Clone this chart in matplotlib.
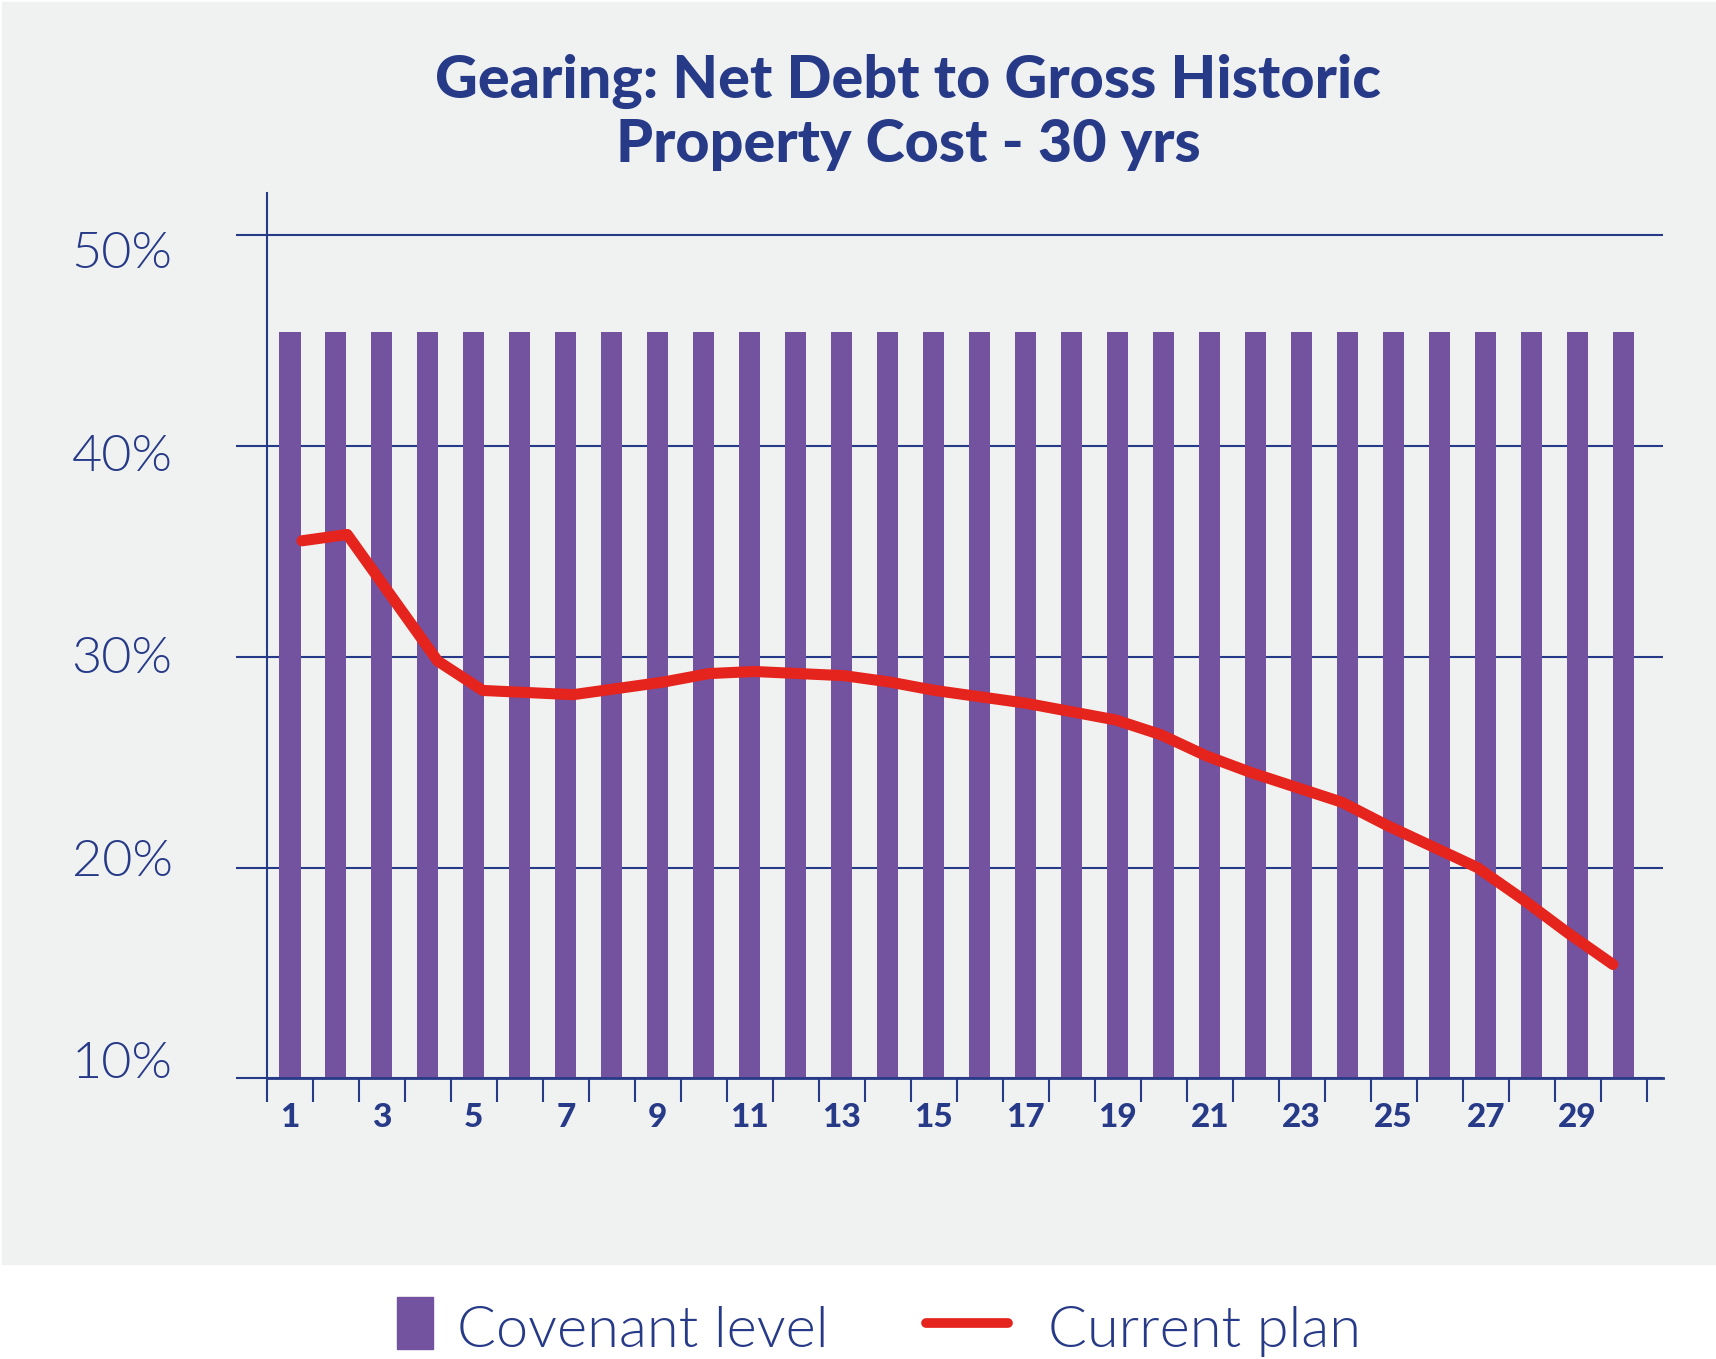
import numpy as np
import matplotlib
matplotlib.use("Agg")
import matplotlib.pyplot as plt
from matplotlib.patches import Rectangle
from matplotlib.lines import Line2D

# gearing data, years 1-30
years = np.arange(1, 31)
covenant_level = [45.4] * 30
current_plan = [35.5, 35.8, 32.8, 29.8, 28.4, 28.3, 28.2, 28.5, 28.8, 29.2,
                29.3, 29.2, 29.1, 28.8, 28.4, 28.1, 27.8, 27.4, 27.0, 26.3,
                25.3, 24.5, 23.8, 23.1, 22.0, 21.0, 20.0, 18.5, 16.9, 15.4]
y_ticks = [10, 20, 30, 40, 50]
y_labels = ["10%", "20%", "30%", "40%", "50%"]
x_labels = [str(y) for y in years[::2]]

navy = "#273a88"
purple = "#7352a0"
red = "#e4241d"
panel = "#f0f2f1"
font = "Lato"

W, H = 1716, 1359
fig = plt.figure(figsize=(W / 100, H / 100), dpi=100, facecolor="white")

# grey panel behind the chart, legend sits on white below it
fig.add_artist(Rectangle((2 / W, 1 - 1264 / H), 1, 1264 / H - 2 / H,
                         transform=fig.transFigure, color=panel, zorder=-10))

ax = fig.add_axes([267 / W, 1 - 1078.3 / H, (1662.7 - 267) / W, (1078.3 - 193) / H])
ax.patch.set_visible(False)
ax.set_axisbelow(True)

ax.bar(years, covenant_level, width=0.457, color=purple, zorder=2)
ax.set_xlim(0.5, 30.85)
ax.set_ylim(10, 52)

ax.set_yticks(y_ticks)
ax.set_yticklabels([])
ax.tick_params(axis="y", direction="out", length=22.5, width=1.5, color=navy)
ax.grid(axis="y", color=navy, linewidth=1.5)

ax.set_xticks(years[::2])
ax.set_xticklabels(x_labels, fontfamily=font, fontweight="black", fontsize=24, color=navy)
ax.set_xticks(np.arange(0.5, 31, 1), minor=True)
ax.tick_params(axis="x", which="major", length=0, pad=18)
ax.tick_params(axis="x", which="minor", direction="out", length=17.5, width=1.5, color=navy)

for s in ["top", "right"]:
    ax.spines[s].set_visible(False)
ax.spines["left"].set_color(navy)
ax.spines["left"].set_linewidth(1.5)
ax.spines["bottom"].set_color(navy)
ax.spines["bottom"].set_linewidth(2)

# percentage labels on their own scale to the left
ax_lab = ax.twinx()
ax_lab.set_ylim(10, 53.7)
ax_lab.yaxis.tick_left()
ax_lab.set_yticks(y_ticks)
ax_lab.set_yticklabels(y_labels, fontfamily=font, fontweight=300, fontsize=37.5, color=navy)
for t in ax_lab.get_yticklabels():
    t.set_verticalalignment("baseline")
ax_lab.tick_params(axis="y", length=0, pad=68)
for s in ax_lab.spines.values():
    s.set_visible(False)

# current plan line on a slightly narrower x scale
ax2 = ax.twiny()
ax2.set_xlim(0.226, 31.10)
ax2.plot(years, current_plan, color=red, linewidth=8, solid_capstyle="round",
         solid_joinstyle="round", zorder=5)
ax2.set_xticks([])
for s in ax2.spines.values():
    s.set_visible(False)

fig.text(908 / W, 1 - 98 / H, "Gearing: Net Debt to Gross Historic", ha="center",
         va="baseline", fontfamily=font, fontweight="black", fontsize=42.7, color=navy)
fig.text(908 / W, 1 - 162 / H, "Property Cost - 30 yrs", ha="center",
         va="baseline", fontfamily=font, fontweight="black", fontsize=42.7, color=navy)

# legend
fig.add_artist(Rectangle((397 / W, 1 - 1349 / H), 36 / W, 52 / H,
                         transform=fig.transFigure, color=purple))
fig.add_artist(Line2D([926 / W, 1008 / W], [1 - 1323 / H] * 2, transform=fig.transFigure,
                      color=red, linewidth=7, solid_capstyle="round"))
fig.text(457 / W, 1 - 1347 / H, "Covenant level", ha="left", va="baseline",
         fontfamily=font, fontweight=300, fontsize=41.5, color=navy)
fig.text(1048 / W, 1 - 1347 / H, "Current plan", ha="left", va="baseline",
         fontfamily=font, fontweight=300, fontsize=41.5, color=navy)

fig.savefig("out.png", dpi=100, facecolor="white")
